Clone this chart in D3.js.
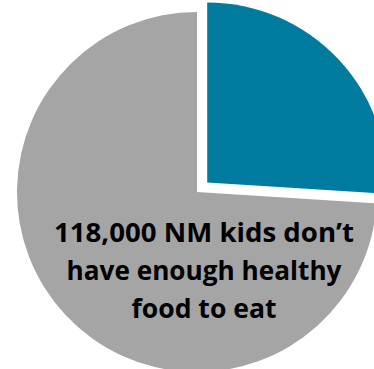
<!DOCTYPE html>
<html>
<head>
<meta charset="utf-8">
<script src="https://cdn.jsdelivr.net/npm/d3@7"></script>
<style>
  html, body { margin: 0; padding: 0; background: #fff; }
  svg { display: block; }
</style>
</head>
<body>
<svg id="pie"></svg>
<script>
// slice data
const categories = ["Food insecure kids", "Other kids"];
const values = [26, 74];
const colors = ["#007ba0", "#a5a5a5"];
const labelLines = ["118,000 NM kids don\u2019t", "have enough healthy", "food to eat"];
const lineWidths = [300, 275, 145];

const width = 374, height = 369;
const cx = 197, cy = 192, radius = 180;
const explode = 14;

let svg = d3.select("#pie")
    .attr("width", width)
    .attr("height", height);

let pie = d3.pie().sort(null).value(d => d.value);
let arc = d3.arc().innerRadius(0).outerRadius(radius);

let data = categories.map((c, i) => ({ name: c, value: values[i], color: colors[i] }));

let g = svg.append("g")
    .attr("transform", `translate(${cx},${cy})`);

// draw slices, first one pulled out along its bisector
g.selectAll("path")
    .data(pie(data))
    .enter()
    .append("path")
        .attr("d", arc)
        .attr("fill", d => d.data.color)
        .attr("transform", (d, i) => {
            if (i !== 0) return null;
            let mid = (d.startAngle + d.endAngle) / 2;
            return `translate(${Math.sin(mid) * explode},${-Math.cos(mid) * explode})`;
        });

// label text, squeezed to the width of the original narrow font
svg.append("g")
    .attr("font-family", "'Open Sans', sans-serif")
    .attr("font-weight", "bold")
    .attr("font-size", "27px")
    .attr("fill", "#000")
    .attr("text-anchor", "middle")
    .selectAll("text")
    .data(labelLines)
    .enter()
    .append("text")
        .attr("x", 204)
        .attr("y", (d, i) => 242 + i * 38)
        .attr("textLength", (d, i) => lineWidths[i])
        .attr("lengthAdjust", "spacingAndGlyphs")
        .text(d => d);
</script>
</body>
</html>
